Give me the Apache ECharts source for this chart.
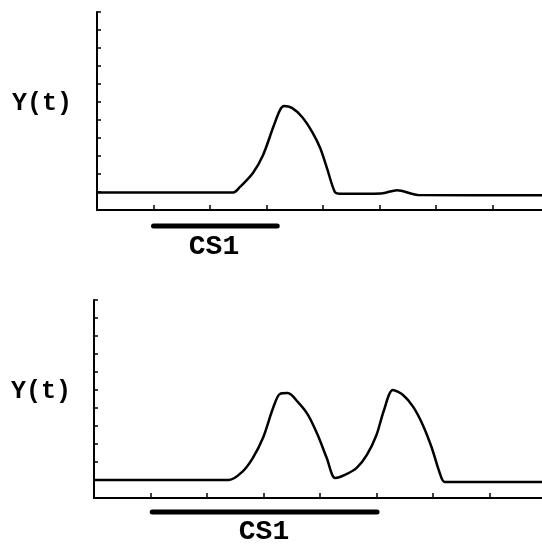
<!DOCTYPE html>
<html>
<head>
<meta charset="utf-8">
<script src="https://cdn.jsdelivr.net/npm/echarts@6/dist/echarts.min.js"></script>
<style>
html, body { margin: 0; padding: 0; background: #fff; }
#chart { width: 542px; height: 544px; }
</style>
</head>
<body>
<div id="chart"></div>
<script>
// time in tick units, response Y(t) in tick units
const topCurve = [
    [0, 0.97], [2.41, 0.97], [2.53, 1.28], [2.76, 2.06], [2.94, 3.06], [3.12, 4.61],
    [3.24, 5.56], [3.31, 5.78], [3.45, 5.67], [3.63, 5.17], [3.81, 4.33], [3.95, 3.44],
    [4.07, 2.33], [4.21, 1.0], [4.30, 0.9], [5.03, 0.92], [5.31, 1.1], [5.68, 0.84],
    [7.88, 0.82]
]
const bottomCurve = [
    [0, 1.0], [2.39, 1.0], [2.62, 1.44], [2.81, 2.22], [2.99, 3.33], [3.17, 5.0],
    [3.29, 5.78], [3.43, 5.83], [3.61, 5.33], [3.79, 4.61], [3.96, 3.5], [4.12, 2.22],
    [4.27, 1.11], [4.44, 1.28], [4.65, 1.67], [4.83, 2.39], [5.0, 3.5], [5.13, 4.85],
    [5.29, 6.0], [5.47, 5.72], [5.65, 5.06], [5.82, 4.06], [5.98, 2.78], [6.12, 1.39],
    [6.21, 0.89], [7.93, 0.89]
]
// CS1 stimulus intervals (drawn just under each time axis)
const topCS = [[1.0, -0.89], [3.19, -0.89]]
const bottomCS = [[1.03, -0.78], [5.01, -0.78]]
const xTicks = [1, 2, 3, 4, 5, 6, 7]
const yTicks = [1, 2, 3, 4, 5, 6, 7, 8, 9, 10, 11]

const axisLine = { lineStyle: { color: '#000', width: 2 } }
const tickStyle = { color: '#000', width: 1.5 }
const font = '"Liberation Mono"'

function xAx(idx, max) {
    return {
        type: 'value', gridIndex: idx, min: 0, max: max,
        axisLine: axisLine,
        axisTick: { inside: true, length: 5, customValues: xTicks, lineStyle: tickStyle },
        axisLabel: { show: false },
        splitLine: { show: false }
    }
}
function yAx(idx) {
    return {
        type: 'value', gridIndex: idx, min: 0, max: 11,
        axisLine: axisLine,
        axisTick: { inside: true, length: 4, customValues: yTicks, lineStyle: tickStyle },
        axisLabel: { show: false },
        splitLine: { show: false }
    }
}
function curve(idx, data) {
    return {
        type: 'line', xAxisIndex: idx, yAxisIndex: idx, data: data,
        smooth: 0.3, symbol: 'none', silent: true,
        lineStyle: { color: '#000', width: 2.5 }
    }
}
function csBar(idx, data) {
    return {
        type: 'line', xAxisIndex: idx, yAxisIndex: idx, data: data,
        symbol: 'none', clip: false, silent: true,
        lineStyle: { color: '#000', width: 5, cap: 'round' }
    }
}
function label(text, x, y, size) {
    return {
        type: 'text', x: x, y: y,
        style: { text: text, fill: '#000', font: 'bold ' + size + 'px ' + font, textAlign: 'center', textVerticalAlign: 'middle' }
    }
}

const chart = echarts.init(document.getElementById('chart'))
chart.setOption({
    animation: false,
    grid: [
        { left: 97, top: 12, width: 445, height: 198 },
        { left: 94, top: 300, width: 448, height: 198 }
    ],
    xAxis: [xAx(0, 7.876), xAx(1, 7.93)],
    yAxis: [yAx(0), yAx(1)],
    series: [curve(0, topCurve), curve(1, bottomCurve), csBar(0, topCS), csBar(1, bottomCS)],
    graphic: [
        label('Y(t)', 42, 104, 25),
        label('Y(t)', 41, 392, 25),
        label('CS1', 214, 247, 28),
        label('CS1', 264, 532, 28)
    ]
})
</script>
</body>
</html>
